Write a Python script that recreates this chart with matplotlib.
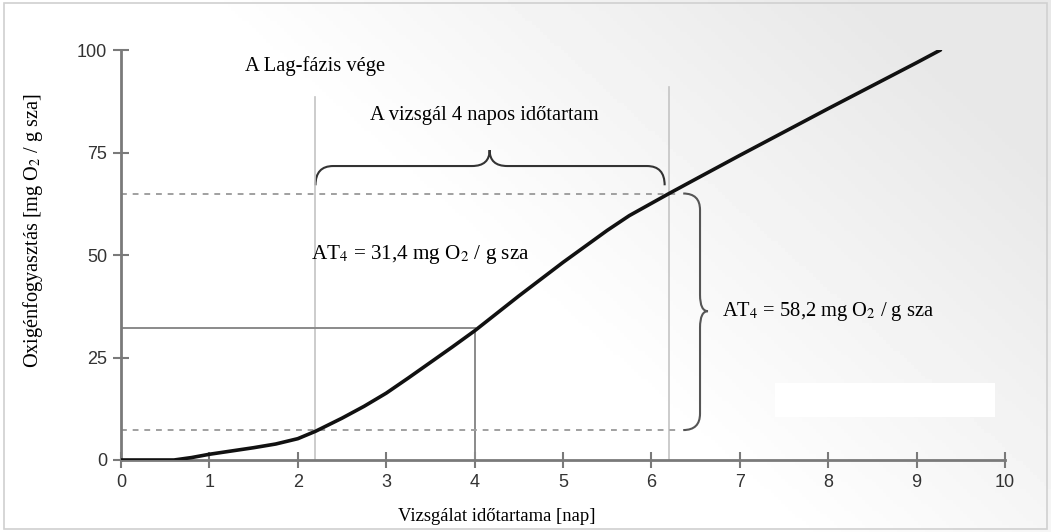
import numpy as np
import matplotlib.pyplot as plt
from matplotlib.path import Path
from matplotlib.patches import PathPatch, Rectangle

# oxygen consumption curve
days = [0, 0.6, 0.8, 1.0, 1.25, 1.5, 1.75, 2.0, 2.2, 2.5, 2.75, 3.0, 3.25, 3.5, 3.75,
        4.0, 4.5, 5.0, 5.5, 5.75, 6.0, 6.2, 6.5, 7.0, 7.5, 8.0, 8.5, 9.0, 9.27]
oxygen = [0, 0, 0.6, 1.4, 2.2, 3.0, 3.9, 5.2, 7.0, 10.2, 13.1, 16.3, 20.0, 23.8, 27.6,
          31.5, 40.0, 48.2, 56.0, 59.6, 62.6, 65.0, 68.5, 74.3, 80.0, 85.7, 91.3, 96.9, 100.0]

lag_end = 2.2
test_end = 6.2
day4 = 4.0
at4_value = 31.4
lower_level = 7.2
upper_level = 65.0

xticks = list(range(0, 11))
yticks = [0, 25, 50, 75, 100]

serif = ['Liberation Serif', 'DejaVu Serif']
narrow = ['Liberation Sans Narrow', 'Liberation Sans', 'DejaVu Sans']

fig = plt.figure(figsize=(10.51, 5.32), dpi=100)

# faint grey gradient in the background
bg = fig.add_axes([0, 0, 1, 1], zorder=-5)
gx, gy = np.meshgrid(np.linspace(0, 1, 300), np.linspace(1, 0, 150))
shade = np.clip((gx - 0.55) * 1.6 + (gy - 0.35) * 0.9, 0, 1) * 0.09
bg.imshow(1 - shade, cmap='gray', vmin=0, vmax=1, aspect='auto', extent=[0, 1, 0, 1])
bg.add_patch(Rectangle((0.004, 0.006), 0.992, 0.988, fill=False, ec='#d0d0d0', lw=1.2))
bg.add_patch(Rectangle((775 / 1051, 1 - 417 / 532), 220 / 1051, 34 / 532, fc='white', ec='none'))
bg.set_xlim(0, 1)
bg.set_ylim(0, 1)
bg.axis('off')

ax = fig.add_axes([121 / 1051, 72 / 532, 884 / 1051, 410 / 532])
ax.patch.set_alpha(0)

ax.plot(days, oxygen, color='#111111', lw=2.6, zorder=5, solid_capstyle='round',
        solid_joinstyle='round')

# helper lines
ax.plot([lag_end, lag_end], [0, 88.5], color='#c4c4c4', lw=1.2)
ax.plot([test_end, test_end], [0, 91], color='#c4c4c4', lw=1.2)
ax.plot([day4, day4], [0, at4_value], color='#8a8a8a', lw=1.4)
ax.plot([0, day4], [at4_value + 0.8, at4_value + 0.8], color='#8a8a8a', lw=1.4)
ax.plot([0, 6.3], [upper_level, upper_level], color='#a0a0a0', lw=1.4, dashes=(3, 3))
ax.plot([0, 6.3], [lower_level, lower_level], color='#a0a0a0', lw=1.4, dashes=(3, 3))

# horizontal brace
x0, x1, xm = 2.2, 6.15, 4.17
yb, yt, ytip = 67.0, 71.7, 75.6
verts = [(x0, yb), (x0, yt), (x0 + 0.2, yt), (xm - 0.2, yt), (xm, yt), (xm, ytip),
         (xm, yt), (xm + 0.2, yt), (x1 - 0.2, yt), (x1, yt), (x1, yb)]
codes = [Path.MOVETO, Path.CURVE3, Path.CURVE3, Path.LINETO, Path.CURVE3, Path.CURVE3,
         Path.CURVE3, Path.CURVE3, Path.LINETO, Path.CURVE3, Path.CURVE3]
ax.add_patch(PathPatch(Path(verts, codes), fc='none', ec='#333333', lw=1.5))

# vertical brace
vx0, vx1, vxt = 6.36, 6.55, 6.64
vtop, vbot, vmid = 65.0, 7.3, 36.3
verts = [(vx0, vtop), (vx1, vtop), (vx1, vtop - 4), (vx1, vmid + 4), (vx1, vmid), (vxt, vmid),
         (vx1, vmid), (vx1, vmid - 4), (vx1, vbot + 4), (vx1, vbot), (vx0, vbot)]
ax.add_patch(PathPatch(Path(verts, codes), fc='none', ec='#555555', lw=1.5))

# annotations
ax.text(1.4, 96, 'A Lag-fázis vége', family=serif, fontsize=14.8, va='center', ha='left')
ax.text(4.11, 84, 'A vizsgál 4 napos időtartam', family=serif, fontsize=14.8, va='center',
        ha='center')
ax.text(2.15, 50, 'AT$_4$ = 31,4 mg O$_2$ / g sza', family=serif, fontsize=15.2, va='center',
        ha='left', math_fontfamily='stix')
ax.text(6.8, 36.3, 'AT$_4$ = 58,2 mg O$_2$ / g sza', family=serif, fontsize=14.8, va='center',
        ha='left', math_fontfamily='stix')

ax.set_xlim(0, 10)
ax.set_ylim(0, 100)
ax.set_xticks(xticks)
ax.set_yticks(yticks)
ax.set_xticklabels([str(t) for t in xticks], family=narrow, fontsize=13, color='#333333')
ax.set_yticklabels([str(t) for t in yticks], family=narrow, fontsize=13, color='#333333')
for side in ['top', 'right']:
    ax.spines[side].set_visible(False)
for side in ['left', 'bottom']:
    ax.spines[side].set_color('#7a7a7a')
    ax.spines[side].set_linewidth(2)
ax.tick_params(direction='inout', length=12, width=1.5, color='#7a7a7a', pad=4)

ax.set_ylabel('Oxigénfogyasztás [mg O$_2$ / g sza]', family=serif, fontsize=14.6,
              math_fontfamily='stix')
ax.yaxis.set_label_coords(-0.086, 0.56)
ax.text(4.25, -13.8, 'Vizsgálat időtartama [nap]', family=serif, fontsize=13.4,
        ha='center', va='center', clip_on=False)

fig.savefig('out.png', dpi=100)
